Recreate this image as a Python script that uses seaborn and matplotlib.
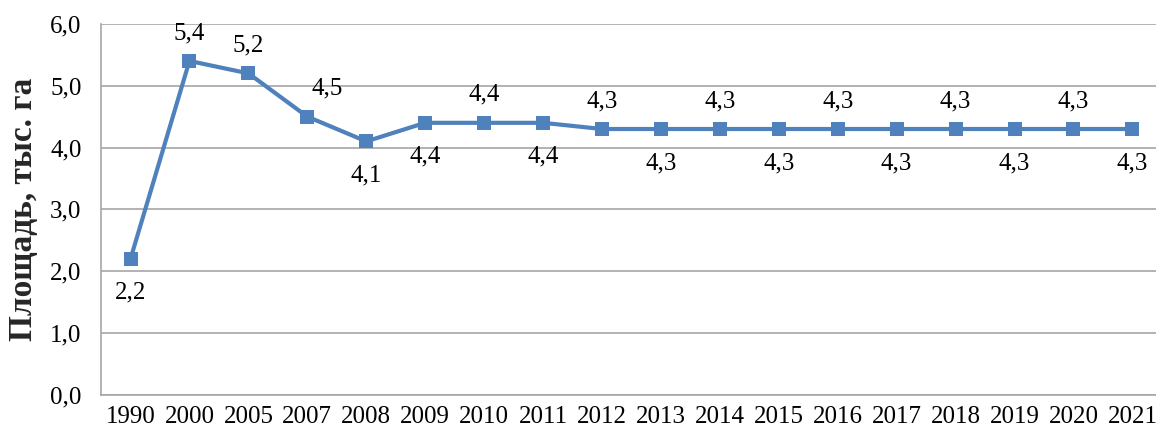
import matplotlib
matplotlib.use('Agg')
import matplotlib.pyplot as plt
import seaborn as sns
import pandas as pd
from matplotlib.ticker import FuncFormatter, MultipleLocator

# Данные
years = ['1990', '2000', '2005', '2007', '2008', '2009', '2010', '2011', '2012',
         '2013', '2014', '2015', '2016', '2017', '2018', '2019', '2020', '2021']
area = [2.2, 5.4, 5.2, 4.5, 4.1, 4.4, 4.4, 4.4, 4.3,
        4.3, 4.3, 4.3, 4.3, 4.3, 4.3, 4.3, 4.3, 4.3]
label_above = ['2000', '2005', '2007', '2010', '2012', '2014', '2016', '2018', '2020']

df = pd.DataFrame({'year': years, 'area': area})
df['pos'] = range(len(df))

sns.set_style('white')
plt.rcParams['font.family'] = ['Liberation Serif', 'DejaVu Serif']

color = '#4F81BD'
fig = plt.figure(figsize=(11.56, 4.34), dpi=100)
ax = fig.add_axes([0.0874, 0.090, 0.9126, 0.855])

sns.lineplot(data=df, x='pos', y='area', ax=ax, color=color, linewidth=3,
             marker='s', markersize=10.5, markeredgewidth=0, zorder=3)

for _, row in df.iterrows():
    txt = f"{row['area']:.1f}".replace('.', ',')
    if row['year'] in label_above:
        dx = 20 if row['year'] == '2007' else 0
        off = (dx, 28)
    else:
        off = (0, -34)
    ax.annotate(txt, (row['pos'], row['area']), xytext=off, textcoords='offset pixels',
                ha='center', va='center', fontsize=18, color='black')

ax.set_ylim(0, 6)
ax.set_xlim(-0.5, 17.4)
ax.yaxis.set_major_locator(MultipleLocator(1))
ax.yaxis.set_major_formatter(FuncFormatter(lambda v, p: f"{v:.1f}".replace('.', ',')))
ax.set_xticks(df['pos'])
ax.set_xticklabels(years)
ax.tick_params(axis='both', length=0, labelsize=18, colors='black')
ax.tick_params(axis='y', pad=14)
ax.tick_params(axis='x', pad=8)
ax.grid(axis='y', color='#A6A6A6', linewidth=1.2)
ax.set_axisbelow(True)

for s in ['top', 'right']:
    ax.spines[s].set_visible(False)
for s in ['left', 'bottom']:
    ax.spines[s].set_color('#A6A6A6')
    ax.spines[s].set_linewidth(1.2)

ax.set_xlabel('')
ax.set_ylabel('Площадь, тыс. га', fontsize=24, fontweight='bold', labelpad=8)

fig.savefig('out.png', dpi=100)
